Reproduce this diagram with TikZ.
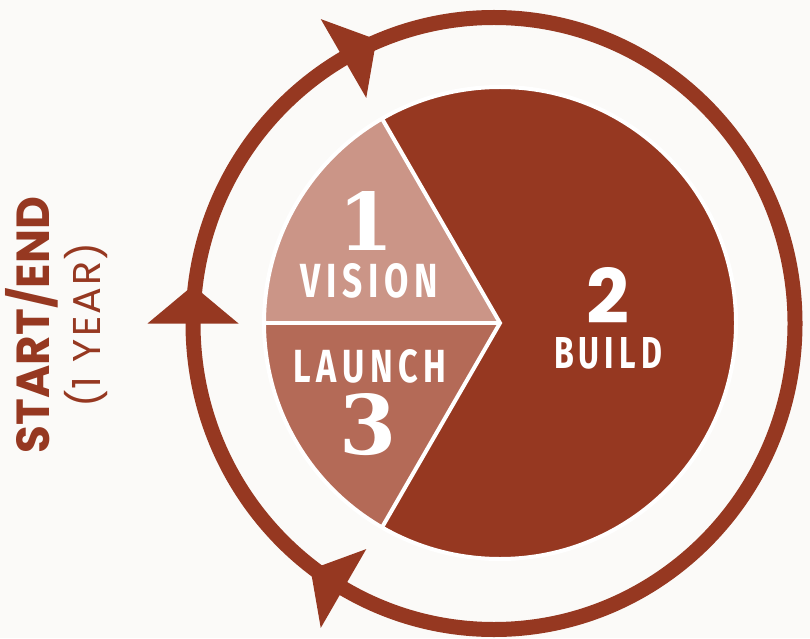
\documentclass[tikz,border=0pt]{standalone}
\usepackage{fontspec}
\usepackage{graphicx}
\usetikzlibrary{calc}
\setmainfont{Poppins}
\newfontfamily\popfont{Poppins}
\newfontfamily\popwide[LetterSpace=6]{Poppins}
\newfontfamily\firawide[LetterSpace=16]{Fira Sans}
\newfontfamily\slabfont{DejaVu Serif}
\definecolor{rust}{RGB}{150,56,33}
\definecolor{visioncol}{RGB}{203,149,135}
\definecolor{launchcol}{RGB}{180,106,87}
\definecolor{bgcol}{RGB}{251,250,248}
\tikzset{
  ptxt/.style={text=white, inner sep=0pt},
  stxt/.style={text=rust, inner sep=0pt, rotate=90},
  ringline/.style={draw=rust, line width=15pt},
  sep/.style={draw=white, line width=4pt},
}
\begin{document}
\begin{tikzpicture}[x=1pt,y=1pt]
\fill[bgcol] (0,0) rectangle (810,638);
\useasboundingbox (0,0) rectangle (810,638);
\coordinate (C) at (494,314.5);
\coordinate (P) at (500,315);
% outer ring
\draw[ringline] (C) ellipse [x radius=301pt, y radius=306pt];
% arrowheads
\foreach \t in {120,180,240} {
  \fill[rust, shift={($(C)+(\t:301pt and 306pt)$)}, rotate=\t-90]
    (0,45.5) -- (38,0) -- (0,-45.5) -- cycle;
}
% pie
\fill[rust] (P) -- ++(-120:236pt) arc[start angle=-120, end angle=120, radius=236pt] -- cycle;
\fill[visioncol] (P) -- ++(120:236pt) arc[start angle=120, end angle=180, radius=236pt] -- cycle;
\fill[launchcol] (P) -- ++(180:236pt) arc[start angle=180, end angle=240, radius=236pt] -- cycle;
\draw[sep] (P) circle[radius=236pt];
\draw[sep] ($(P)+(120:236pt)$) -- (P) -- ($(P)+(240:236pt)$);
\draw[sep] (P) -- ++(180:236pt);
% pie labels
\node[ptxt] (n1) at (366.5,417) {\resizebox{!}{59pt}{\slabfont\bfseries 1}};
\node[ptxt] (vision) at (369.5,357.5) {\resizebox{137pt}{34pt}{\firawide\bfseries VISION}};
\node[ptxt] (launch) at (370,271.5) {\resizebox{152pt}{33pt}{\firawide\bfseries LAUNCH}};
\node[ptxt] (n3) at (368,213.5) {\resizebox{!}{61pt}{\slabfont\bfseries 3}};
\node[ptxt] (n2) at (607.5,343) {\resizebox{!}{56pt}{\popfont\bfseries 2}};
\node[ptxt] (build) at (608,285) {\resizebox{108pt}{31pt}{\firawide\bfseries BUILD}};
% side labels
\node[stxt] (startend) at (33.5,313) {\resizebox{256pt}{33pt}{\popfont\bfseries START\smash{/}END}};
\node[stxt] (year) at (86,313) {\resizebox{164pt}{28pt}{\popwide\smash{(}1\hspace{0.35em}YEAR\smash{)}}};
\end{tikzpicture}
\end{document}
